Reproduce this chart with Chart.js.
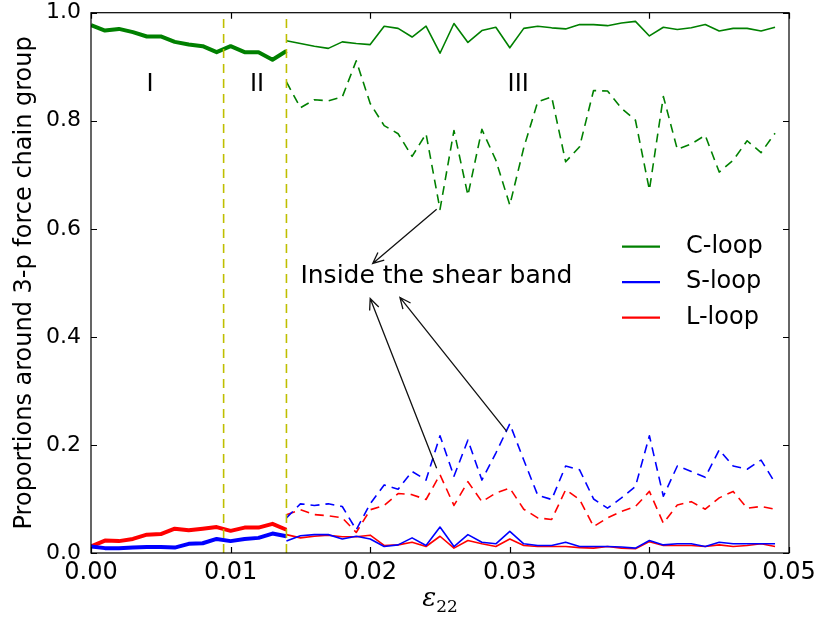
<!DOCTYPE html>
<html>
<head>
<meta charset="utf-8">
<script src="https://cdn.jsdelivr.net/npm/chart.js@4.4.1/dist/chart.umd.min.js"></script>
<style>
  body { margin: 0; background: #fff; }
  #line-chart { display: block; }
</style>
</head>
<body>
<canvas id="line-chart" width="816" height="619"></canvas>
<script>
// strain eps_22, stages I-II (thick lines) and stage III (thin + dashed)
var strainEarly = [0.000, 0.001, 0.002, 0.003, 0.004, 0.005, 0.006, 0.007, 0.008, 0.009,
                   0.010, 0.011, 0.012, 0.013, 0.014];
var strainLate = [0.014, 0.015, 0.016, 0.017, 0.018, 0.019, 0.020, 0.021, 0.022, 0.023,
                  0.024, 0.025, 0.026, 0.027, 0.028, 0.029, 0.030, 0.031, 0.032, 0.033,
                  0.034, 0.035, 0.036, 0.037, 0.038, 0.039, 0.040, 0.041, 0.042, 0.043,
                  0.044, 0.045, 0.046, 0.047, 0.048, 0.049];

// stages I and II (whole sample)
var cLoopEarly = [0.977, 0.967, 0.970, 0.964, 0.956, 0.956, 0.946, 0.941, 0.938, 0.927,
                  0.938, 0.927, 0.927, 0.913, 0.929];
var sLoopEarly = [0.012, 0.009, 0.009, 0.010, 0.011, 0.011, 0.010, 0.017, 0.018, 0.026,
                  0.022, 0.026, 0.028, 0.036, 0.031];
var lLoopEarly = [0.012, 0.023, 0.022, 0.026, 0.034, 0.035, 0.045, 0.042, 0.045, 0.048,
                  0.041, 0.047, 0.047, 0.054, 0.043];

// stage III, outside the shear band (solid thin)
var cLoopOutside = [0.948, 0.943, 0.938, 0.934, 0.946, 0.943, 0.941, 0.975, 0.971, 0.955,
                    0.975, 0.925, 0.980, 0.945, 0.967, 0.973, 0.935, 0.971, 0.975, 0.972,
                    0.970, 0.978, 0.978, 0.976, 0.981, 0.984, 0.957, 0.973, 0.969, 0.972,
                    0.978, 0.966, 0.971, 0.971, 0.966, 0.973];
var sLoopOutside = [0.022, 0.032, 0.034, 0.034, 0.026, 0.031, 0.026, 0.012, 0.015, 0.028,
                    0.014, 0.048, 0.012, 0.034, 0.020, 0.017, 0.040, 0.017, 0.014, 0.014,
                    0.020, 0.012, 0.012, 0.012, 0.011, 0.009, 0.023, 0.015, 0.017, 0.017,
                    0.012, 0.020, 0.017, 0.017, 0.017, 0.017];
var lLoopOutside = [0.034, 0.028, 0.031, 0.033, 0.030, 0.030, 0.033, 0.014, 0.015, 0.020,
                    0.012, 0.031, 0.009, 0.023, 0.017, 0.012, 0.026, 0.014, 0.012, 0.012,
                    0.012, 0.010, 0.009, 0.012, 0.009, 0.008, 0.021, 0.014, 0.014, 0.014,
                    0.012, 0.015, 0.012, 0.014, 0.017, 0.012];

// stage III, inside the shear band (dashed)
var cLoopInside = [0.872, 0.824, 0.839, 0.837, 0.844, 0.911, 0.832, 0.791, 0.776, 0.734,
                   0.776, 0.636, 0.782, 0.662, 0.784, 0.727, 0.644, 0.750, 0.835, 0.844,
                   0.724, 0.752, 0.856, 0.855, 0.823, 0.801, 0.672, 0.845, 0.747, 0.757,
                   0.773, 0.705, 0.727, 0.763, 0.741, 0.777];
var sLoopInside = [0.065, 0.091, 0.088, 0.091, 0.086, 0.043, 0.091, 0.126, 0.118, 0.151,
                   0.135, 0.217, 0.142, 0.209, 0.135, 0.185, 0.239, 0.172, 0.107, 0.099,
                   0.161, 0.154, 0.100, 0.083, 0.102, 0.123, 0.217, 0.105, 0.161, 0.151,
                   0.140, 0.191, 0.161, 0.155, 0.172, 0.130];
var lLoopInside = [0.071, 0.080, 0.071, 0.069, 0.065, 0.038, 0.080, 0.088, 0.110, 0.108,
                   0.099, 0.145, 0.088, 0.132, 0.095, 0.111, 0.120, 0.081, 0.065, 0.062,
                   0.117, 0.099, 0.049, 0.065, 0.077, 0.086, 0.114, 0.055, 0.089, 0.095,
                   0.081, 0.102, 0.114, 0.083, 0.086, 0.081];

// stage boundaries and names
var stageBounds = [0.0095, 0.014];
var stageNames = ['I', 'II', 'III'];
var loopNames = ['C-loop', 'S-loop', 'L-loop'];
var noteText = 'Inside the shear band';

var GREEN = '#008000', BLUE = '#0000ff', RED = '#ff0000', OLIVE = '#bfbf00';
var FONT = '"DejaVu Sans", sans-serif';

function pts(xs, ys) {
	return xs.map(function (x, i) { return {x: x, y: ys[i]}; });
}

function vline(x) {
	return {
		data: [{x: x, y: 0}, {x: x, y: 1}],
		borderColor: OLIVE, borderWidth: 1.6, borderDash: [9, 6]
	};
}

var decor = {
	id: 'decor',
	afterDatasetsDraw: function (chart) {
		var ctx = chart.ctx, a = chart.chartArea;
		var xs = chart.scales.x, ys = chart.scales.y;
		function X(v) { return xs.getPixelForValue(v); }
		function Y(v) { return ys.getPixelForValue(v); }
		ctx.save();

		// frame + inward ticks
		ctx.strokeStyle = '#000';
		ctx.lineWidth = 1.2;
		ctx.strokeRect(a.left, a.top, a.right - a.left, a.bottom - a.top);
		ctx.beginPath();
		xs.ticks.forEach(function (t) {
			var px = Math.round(X(t.value)) + 0.5;
			ctx.moveTo(px, a.bottom); ctx.lineTo(px, a.bottom - 6);
			ctx.moveTo(px, a.top); ctx.lineTo(px, a.top + 6);
		});
		ys.ticks.forEach(function (t) {
			var py = Math.round(Y(t.value)) + 0.5;
			ctx.moveTo(a.left, py); ctx.lineTo(a.left + 6, py);
			ctx.moveTo(a.right, py); ctx.lineTo(a.right - 6, py);
		});
		ctx.stroke();

		// stage names
		ctx.fillStyle = '#000';
		ctx.font = '24px ' + FONT;
		ctx.textAlign = 'center';
		ctx.textBaseline = 'middle';
		var stageX = [0.00423, 0.0119, 0.0306];
		stageNames.forEach(function (s, i) { ctx.fillText(s, X(stageX[i]), Y(0.866)); });

		// note + arrows
		ctx.font = '25px ' + FONT;
		ctx.textAlign = 'left';
		ctx.textBaseline = 'alphabetic';
		ctx.fillText(noteText, X(0.015), Y(0.5));
		var arrows = [
			[0.02476, 0.636, 0.02018, 0.536],
			[0.02476, 0.157, 0.0200, 0.471],
			[0.02978, 0.225, 0.02213, 0.473]
		];
		ctx.strokeStyle = '#111';
		ctx.lineWidth = 1.3;
		arrows.forEach(function (ar) {
			var x0 = X(ar[0]), y0 = Y(ar[1]), x1 = X(ar[2]), y1 = Y(ar[3]);
			var ang = Math.atan2(y1 - y0, x1 - x0);
			ctx.beginPath();
			ctx.moveTo(x0, y0); ctx.lineTo(x1, y1);
			ctx.moveTo(x1 - 12 * Math.cos(ang - 0.42), y1 - 12 * Math.sin(ang - 0.42));
			ctx.lineTo(x1, y1);
			ctx.lineTo(x1 - 12 * Math.cos(ang + 0.42), y1 - 12 * Math.sin(ang + 0.42));
			ctx.stroke();
		});

		// legend
		var cols = [GREEN, BLUE, RED];
		ctx.font = '24px ' + FONT;
		ctx.textBaseline = 'middle';
		loopNames.forEach(function (n, i) {
			var y = a.top + 234 + i * 35.5;
			ctx.strokeStyle = cols[i];
			ctx.lineWidth = 2.2;
			ctx.beginPath();
			ctx.moveTo(a.right - 167, y); ctx.lineTo(a.right - 129, y);
			ctx.stroke();
			ctx.fillText(n, a.right - 103, y);
		});

		// x axis title: epsilon_22
		var cx = (a.left + a.right) / 2;
		ctx.textBaseline = 'alphabetic';
		ctx.font = 'italic 26px "DejaVu Serif", serif';
		var w1 = ctx.measureText('\u03b5').width;
		ctx.font = '17px "DejaVu Serif", serif';
		var w2 = ctx.measureText('22').width;
		var x0 = cx - (w1 + w2) / 2;
		ctx.font = 'italic 26px "DejaVu Serif", serif';
		ctx.fillText('\u03b5', x0, 606);
		ctx.font = '17px "DejaVu Serif", serif';
		ctx.fillText('22', x0 + w1, 612);

		ctx.restore();
	}
};

function chart_set() {
	var chart = new Chart(document.getElementById('line-chart'), {
		type: 'line',
		data: {
			datasets: [
				vline(stageBounds[0]),
				vline(stageBounds[1]),
				{ data: pts(strainEarly, cLoopEarly), borderColor: GREEN, borderWidth: 4 },
				{ data: pts(strainEarly, sLoopEarly), borderColor: BLUE, borderWidth: 4 },
				{ data: pts(strainEarly, lLoopEarly), borderColor: RED, borderWidth: 4 },
				{ data: pts(strainLate, cLoopOutside), borderColor: GREEN, borderWidth: 1.6 },
				{ data: pts(strainLate, sLoopOutside), borderColor: BLUE, borderWidth: 1.6 },
				{ data: pts(strainLate, lLoopOutside), borderColor: RED, borderWidth: 1.6 },
				{ data: pts(strainLate, cLoopInside), borderColor: GREEN, borderWidth: 1.6, borderDash: [9, 6] },
				{ data: pts(strainLate, sLoopInside), borderColor: BLUE, borderWidth: 1.6, borderDash: [9, 6] },
				{ data: pts(strainLate, lLoopInside), borderColor: RED, borderWidth: 1.6, borderDash: [9, 6] }
			]
		},
		options: {
			responsive: false,
			animation: false,
			devicePixelRatio: 1,
			layout: { padding: { left: 0, top: 12.7, right: 27, bottom: 0 } },
			elements: {
				point: { radius: 0, hoverRadius: 0 },
				line: { tension: 0, fill: false, borderJoinStyle: 'round' }
			},
			plugins: {
				legend: { display: false },
				tooltip: { enabled: false }
			},
			scales: {
				x: {
					type: 'linear',
					min: 0, max: 0.05,
					grid: { display: false, drawTicks: false },
					border: { display: false },
					ticks: {
						stepSize: 0.01,
						padding: 5,
						color: '#000',
						font: { family: FONT, size: 24 },
						maxRotation: 0,
						callback: function (v) { return v.toFixed(2); }
					},
					afterFit: function (s) {
						s.height = 66;
						s.paddingLeft = 0;
						s.paddingRight = 0;
					}
				},
				y: {
					min: 0, max: 1,
					grid: { display: false, drawTicks: false },
					border: { display: false },
					ticks: {
						stepSize: 0.2,
						padding: 10,
						color: '#000',
						font: { family: FONT, size: 22, lineHeight: 1 },
						callback: function (v) { return v.toFixed(1); }
					},
					title: {
						display: true,
						text: 'Proportions around 3-p force chain group',
						color: '#000',
						font: { family: FONT, size: 24 },
						padding: { top: 10, bottom: 0 }
					},
					afterFit: function (s) {
						s.width = 91;
						s.paddingTop = 0;
						s.paddingBottom = 0;
					}
				}
			}
		},
		plugins: [decor]
	});
}

chart_set();
</script>
</body>
</html>
